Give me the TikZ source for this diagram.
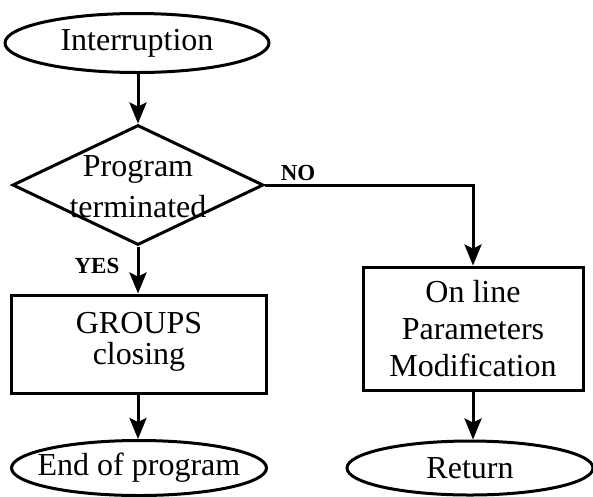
\documentclass[tikz,border=0pt]{standalone}
\usepackage{fontspec}
\setmainfont{Liberation Serif}
\usetikzlibrary{shapes.geometric,arrows.meta}
\begin{document}
\begin{tikzpicture}[x=1pt,y=-1pt,
  every node/.style={font=\fontsize{32}{37}\selectfont, align=center, inner sep=2pt},
  term/.style={ellipse, draw, line width=3pt, inner xsep=-15pt, inner ysep=0pt},
  procbox/.style={rectangle, draw, line width=3pt},
  decide/.style={diamond, draw, line width=3pt},
  lbl/.style={font=\fontsize{23}{25}\selectfont\bfseries},
  conn/.style={line width=3pt, -{Stealth[length=21pt,width=17pt,inset=4pt]}}]
\useasboundingbox (0,0) rectangle (593,496);
\node[term, minimum width=264pt, minimum height=59pt] (intr) at (137,43) {Interruption};
\node[decide, minimum width=251pt, minimum height=120pt, inner sep=0pt] (dec) at (138,185) {};
\node[font=\fontsize{32}{41}\selectfont] (dtxt) at (138,187) {Program\\terminated};
\node[procbox, minimum width=255pt, minimum height=98pt] (grp) at (139,344) {};
\node[font=\fontsize{32}{31}\selectfont] (gtxt) at (139,342) {GROUPS\\closing};
\node[term, minimum width=255pt, minimum height=55pt] (endp) at (139,468) {End of program};
\node[procbox, minimum width=220pt, minimum height=123pt] (mod) at (473,328.5) {On line\\Parameters\\Modification};
\node[term, minimum width=246pt, minimum height=54pt] (ret) at (470,468) {Return};
\node[lbl] (no) at (298,173) {NO};
\node[lbl] (yes) at (97,266) {YES};
\draw[conn] (intr.south -| dec.north) -- (dec.north);
\draw[conn] (dec.south) -- (grp.north -| dec.south);
\draw[conn] (grp.south -| dec.south) -- (endp.north -| dec.south);
\draw[conn] (dec.east) -| (mod.north);
\draw[conn] (mod.south) -- (ret.north -| mod.south);
\end{tikzpicture}
\end{document}
